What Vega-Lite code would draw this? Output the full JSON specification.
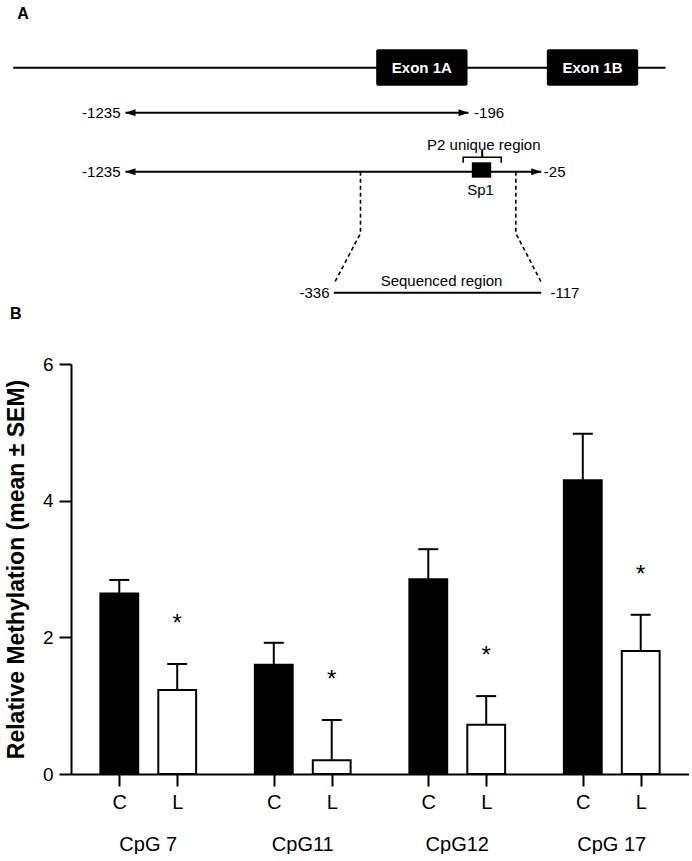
{
  "$schema": "https://vega.github.io/schema/vega-lite/v6.json",
  "padding": {"left": 5, "top": 0, "right": 0, "bottom": 0},
  "background": "white",
  "spacing": 0,
  "datasets": {
    "solid": [
      {"part": "gene", "x": 1.84, "x2": 96.10, "y": 22.57, "y2": 22.57},
      {"part": "arrow1", "x": 18.06, "x2": 67.63, "y": 37.57, "y2": 37.57},
      {"part": "arrow2", "x": 18.06, "x2": 78.14, "y": 57.23, "y2": 57.23},
      {"part": "sequenced", "x": 48.17, "x2": 78.14, "y": 97.57, "y2": 97.57},
      {"part": "bracket tick", "x": 69.61, "x2": 69.61, "y": 52.43, "y2": 50.0}
    ],
    "paths": [
      {"path": "bracket", "ord": 1, "x": 66.86, "y": 54.23},
      {"path": "bracket", "ord": 2, "x": 66.86, "y": 52.43},
      {"path": "bracket", "ord": 3, "x": 72.36, "y": 52.43},
      {"path": "bracket", "ord": 4, "x": 72.36, "y": 54.23}
    ],
    "dashed": [
      {"path": "left", "ord": 1, "x": 52.02, "y": 57.23},
      {"path": "left", "ord": 2, "x": 52.02, "y": 77.77},
      {"path": "left", "ord": 3, "x": 48.17, "y": 94.67},
      {"path": "right", "ord": 1, "x": 74.47, "y": 57.23},
      {"path": "right", "ord": 2, "x": 74.47, "y": 77.77},
      {"path": "right", "ord": 3, "x": 78.28, "y": 94.67}
    ],
    "exons": [
      {"name": "Exon 1A", "x": 54.29, "x2": 67.49, "y": 16.43, "y2": 28.57, "cx": 60.89, "cy": 22.67},
      {"name": "Exon 1B", "x": 78.95, "x2": 92.15, "y": 16.43, "y2": 28.57, "cx": 85.55, "cy": 22.67}
    ],
    "sp1": [
      {"name": "Sp1", "x": 68.11, "x2": 70.91, "y": 54.1, "y2": 59.23}
    ],
    "heads": [
      {"dir": "left", "x": 18.06, "y": 37.57},
      {"dir": "right", "x": 67.63, "y": 37.57},
      {"dir": "left", "x": 18.06, "y": 57.23},
      {"dir": "right", "x": 78.14, "y": 57.23}
    ],
    "ends": [
      {"label": "-1235", "side": "left", "x": 17.34, "y": 37.57},
      {"label": "-196", "side": "right", "x": 68.44, "y": 37.57},
      {"label": "-1235", "side": "left", "x": 17.34, "y": 57.23},
      {"label": "-25", "side": "right", "x": 78.51, "y": 57.23},
      {"label": "-336", "side": "left", "x": 47.54, "y": 97.57},
      {"label": "-117", "side": "right", "x": 79.48, "y": 97.57}
    ],
    "captions": [
      {"label": "P2 unique region", "x": 69.84, "y": 48.33},
      {"label": "Sp1", "x": 69.36, "y": 63.33},
      {"label": "Sequenced region", "x": 63.73, "y": 93.83}
    ],
    "panels": [
      {"label": "A", "x": 3.25, "y": 4.57},
      {"label": "B", "x": 2.21, "y": 104.67}
    ],
    "bars": [
      {"cpg": "CpG 7", "cond": "C", "mean": 2.64, "upper": 2.84, "sig": ""},
      {"cpg": "CpG 7", "cond": "L", "mean": 1.23, "upper": 1.61, "sig": "*"},
      {"cpg": "CpG11", "cond": "C", "mean": 1.60, "upper": 1.92, "sig": ""},
      {"cpg": "CpG11", "cond": "L", "mean": 0.20, "upper": 0.79, "sig": "*"},
      {"cpg": "CpG12", "cond": "C", "mean": 2.85, "upper": 3.29, "sig": ""},
      {"cpg": "CpG12", "cond": "L", "mean": 0.72, "upper": 1.14, "sig": "*"},
      {"cpg": "CpG 17", "cond": "C", "mean": 4.30, "upper": 4.98, "sig": ""},
      {"cpg": "CpG 17", "cond": "L", "mean": 1.80, "upper": 2.33, "sig": "*"}
    ]
  },
  "vconcat": [
    {
      "width": 618,
      "height": 354.8,
      "encoding": {
        "x": {"field": "x", "type": "quantitative", "scale": {"domain": [10.188, 99.494], "zero": false, "nice": false}, "axis": null},
        "y": {"field": "y", "type": "quantitative", "scale": {"domain": [0, 118.27], "zero": false, "nice": false, "reverse": true}, "axis": null}
      },
      "layer": [
        {
          "data": {"name": "solid"},
          "mark": {"type": "rule", "strokeWidth": 2, "color": "black"},
          "encoding": {"x2": {"field": "x2"}, "y2": {"field": "y2"}}
        },
        {
          "data": {"name": "paths"},
          "mark": {"type": "line", "strokeWidth": 1.6, "color": "black"},
          "encoding": {"detail": {"field": "path"}, "order": {"field": "ord", "type": "quantitative"}}
        },
        {
          "data": {"name": "dashed"},
          "mark": {"type": "line", "strokeWidth": 1.6, "color": "black", "strokeDash": [4, 3]},
          "encoding": {"detail": {"field": "path"}, "order": {"field": "ord", "type": "quantitative"}}
        },
        {
          "data": {"name": "exons"},
          "mark": {"type": "rect", "color": "black", "cornerRadius": 2},
          "encoding": {"x2": {"field": "x2"}, "y2": {"field": "y2"}}
        },
        {
          "data": {"name": "exons"},
          "mark": {"type": "text", "color": "white", "fontWeight": "bold", "fontSize": 15, "font": "Liberation Sans", "baseline": "middle", "align": "center"},
          "encoding": {"x": {"field": "cx", "type": "quantitative"}, "y": {"field": "cy", "type": "quantitative"}, "text": {"field": "name"}}
        },
        {
          "data": {"name": "sp1"},
          "mark": {"type": "rect", "color": "black"},
          "encoding": {"x2": {"field": "x2"}, "y2": {"field": "y2"}}
        },
        {
          "data": {"name": "heads"},
          "transform": [{"filter": "datum.dir == 'left'"}],
          "mark": {"type": "point", "shape": "M0,0L2,-0.7L2,0.7Z", "filled": true, "size": 100, "color": "black", "opacity": 1}
        },
        {
          "data": {"name": "heads"},
          "transform": [{"filter": "datum.dir == 'right'"}],
          "mark": {"type": "point", "shape": "M0,0L-2,-0.7L-2,0.7Z", "filled": true, "size": 100, "color": "black", "opacity": 1}
        },
        {
          "data": {"name": "ends"},
          "transform": [{"filter": "datum.side == 'left'"}],
          "mark": {"type": "text", "fontSize": 15, "font": "Liberation Sans", "align": "right", "baseline": "middle", "color": "black"},
          "encoding": {"text": {"field": "label"}}
        },
        {
          "data": {"name": "ends"},
          "transform": [{"filter": "datum.side == 'right'"}],
          "mark": {"type": "text", "fontSize": 15, "font": "Liberation Sans", "align": "left", "baseline": "middle", "color": "black"},
          "encoding": {"text": {"field": "label"}}
        },
        {
          "data": {"name": "captions"},
          "mark": {"type": "text", "fontSize": 15, "font": "Liberation Sans", "align": "center", "baseline": "middle", "color": "black"},
          "encoding": {"text": {"field": "label"}}
        },
        {
          "data": {"name": "panels"},
          "mark": {"type": "text", "fontSize": 16, "fontWeight": "bold", "font": "Liberation Sans", "align": "center", "baseline": "middle", "color": "black"},
          "encoding": {"text": {"field": "label"}}
        }
      ]
    },
    {
      "data": {"name": "bars"},
      "width": 618,
      "height": 410,
      "encoding": {
        "x": {"field": "cpg", "type": "nominal", "title": null, "sort": ["CpG 7", "CpG11", "CpG12", "CpG 17"], "scale": {"paddingInner": 0, "paddingOuter": 0}},
        "xOffset": {"field": "cond", "type": "nominal", "scale": {"paddingInner": 0.347, "paddingOuter": 0.507}}
      },
      "layer": [
        {
          "mark": {"type": "bar", "stroke": "black", "strokeWidth": 2},
          "encoding": {
            "x": {"field": "cpg", "type": "nominal", "title": null, "sort": ["CpG 7", "CpG11", "CpG12", "CpG 17"],
              "axis": {"orient": "bottom", "tickOffset": -28.95, "labelExpr": "'C'", "labelAngle": 0, "labelAlign": "center", "labelFlush": false, "labelBound": false, "labelOverlap": false, "tickSize": 12, "labelFontSize": 20, "labelPadding": 6, "domainWidth": 2, "tickWidth": 2}},
            "y": {
              "field": "mean", "type": "quantitative", "title": "Relative Methylation  (mean ± SEM)",
              "scale": {"domain": [0, 6], "nice": false},
              "axis": {"values": [0, 2, 4, 6], "format": "d", "grid": false, "tickSize": 12, "labelFontSize": 19, "labelPadding": 6, "titleFontSize": 23, "titleFontWeight": "bold", "titlePadding": 14, "domainWidth": 2, "tickWidth": 2}
            },
            "fill": {"field": "cond", "type": "nominal", "scale": {"domain": ["C", "L"], "range": ["black", "white"]}, "legend": null}
          }
        },
        {
          "mark": {"type": "rule", "strokeWidth": 2, "color": "black"},
          "encoding": {
            "x": {"field": "cpg", "type": "nominal", "title": null, "sort": ["CpG 7", "CpG11", "CpG12", "CpG 17"],
              "axis": {"orient": "bottom", "tickOffset": 28.95, "labelExpr": "'L'", "labelAngle": 0, "labelAlign": "center", "labelFlush": false, "labelBound": false, "labelOverlap": false, "domain": false, "tickSize": 12, "labelFontSize": 20, "labelPadding": 6, "tickWidth": 2}},
            "y": {"field": "mean", "type": "quantitative", "title": "Relative Methylation  (mean ± SEM)"},
            "y2": {"field": "upper"}
          }
        },
        {
          "mark": {"type": "tick", "orient": "horizontal", "size": 20, "thickness": 2, "color": "black", "opacity": 1},
          "encoding": {
            "x": {"field": "cpg", "type": "nominal", "title": null, "sort": ["CpG 7", "CpG11", "CpG12", "CpG 17"],
              "axis": {"orient": "bottom", "labelAngle": 0, "labelAlign": "center", "labelFlush": false, "labelBound": false, "labelOverlap": false, "domain": false, "ticks": false, "tickSize": 0, "labelFontSize": 20, "labelPadding": 60}},
            "y": {"field": "upper", "type": "quantitative", "title": "Relative Methylation  (mean ± SEM)"}
          }
        },
        {
          "mark": {"type": "text", "fontSize": 24, "font": "Liberation Sans", "baseline": "alphabetic", "dy": -33, "color": "black"},
          "encoding": {
            "x": {"field": "cpg", "type": "nominal", "title": null, "sort": ["CpG 7", "CpG11", "CpG12", "CpG 17"], "axis": null},
            "y": {"field": "upper", "type": "quantitative", "title": "Relative Methylation  (mean ± SEM)"},
            "text": {"field": "sig"}
          }
        }
      ],
      "resolve": {"axis": {"x": "independent"}}
    }
  ],
  "config": {
    "view": {"stroke": null},
    "axis": {"domainColor": "black", "tickColor": "black", "labelColor": "black", "titleColor": "black", "labelFont": "Liberation Sans", "titleFont": "Liberation Sans"},
    "text": {"font": "Liberation Sans"}
  }
}
